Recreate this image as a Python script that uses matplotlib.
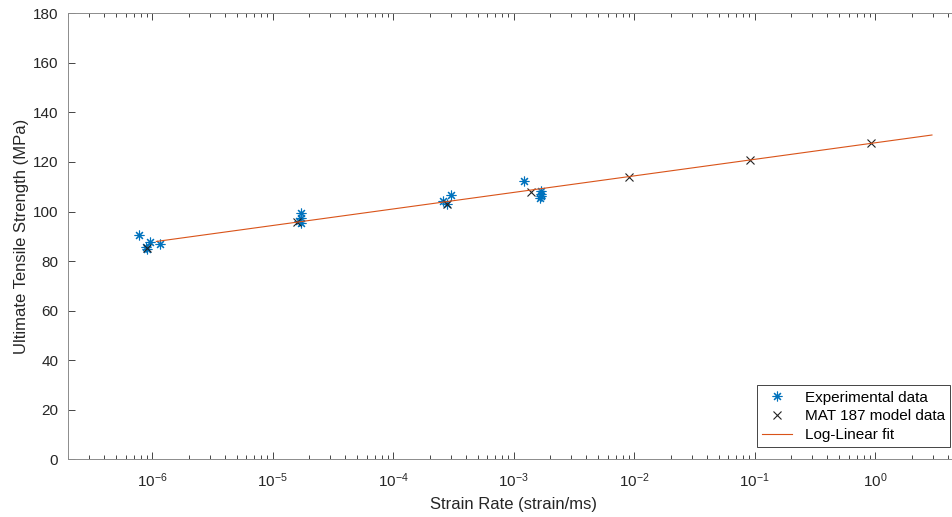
"""Ultimate tensile strength versus strain rate, log-linear fit."""
import matplotlib
matplotlib.use("Agg")
import matplotlib.pyplot as plt
from matplotlib.ticker import LogLocator, NullFormatter

plt.rcParams["font.family"] = ["Liberation Sans", "DejaVu Sans"]

# experimental test results
exp_rate = [7.7e-7, 8.9e-7, 9.1e-7, 9.6e-7, 1.15e-6,
            1.65e-5, 1.7e-5, 1.7e-5, 1.7e-5,
            2.6e-4, 2.8e-4, 3.0e-4,
            1.21e-3, 1.68e-3, 1.68e-3, 1.66e-3, 1.68e-3]
exp_uts = [90.4, 85.5, 84.9, 87.7, 86.8,
           96.0, 99.2, 97.2, 95.3,
           104.1, 102.9, 106.8,
           112.2, 108.4, 107.0, 105.6, 106.3]

# MAT 187 model results
model_rate = [9.0e-7, 1.6e-5, 2.8e-4, 1.4e-3, 9.1e-3, 0.092, 0.92]
model_uts = [85.1, 95.8, 103.2, 107.9, 113.9, 120.7, 127.5]

# log-linear fit (straight in semilog axes), end points
fit_rate = [1.08e-6, 2.95]
fit_uts = [87.9, 130.9]

x_ticks = [1e-6, 1e-5, 1e-4, 1e-3, 1e-2, 1e-1, 1e0]
y_ticks = list(range(0, 181, 20))

fig = plt.figure(figsize=(9.53, 5.17), dpi=100)
ax = fig.add_axes([0.0714, 0.112, 0.9355, 0.862])

ax.semilogx(exp_rate, exp_uts, linestyle="none", marker=(8, 2, 0),
            markersize=7, markeredgewidth=0.8, color="#0072BD",
            label="Experimental data")
ax.semilogx(model_rate, model_uts, linestyle="none", marker="x",
            markersize=6, markeredgewidth=0.8, color="#222222",
            label="MAT 187 model data")
ax.semilogx(fit_rate, fit_uts, "-", color="#D95319", linewidth=0.8,
            label="Log-Linear fit")

ax.set_xlim(2e-7, 5)
ax.set_ylim(0, 180)
ax.set_xticks(x_ticks)
ax.set_yticks(y_ticks)
ax.xaxis.set_minor_locator(LogLocator(base=10, subs=range(2, 10), numticks=20))
ax.xaxis.set_minor_formatter(NullFormatter())

ax.tick_params(which="both", direction="in", top=True, right=True,
               colors="#262626", labelsize=11)
ax.tick_params(which="major", length=5, width=0.6)
ax.tick_params(which="minor", length=3, width=0.6)
ax.tick_params(axis="x", which="major", pad=9)
ax.tick_params(axis="y", which="major", pad=7)
for spine in ax.spines.values():
    spine.set_color("#8c8c8c")
    spine.set_linewidth(0.7)

ax.set_xlabel("Strain Rate (strain/ms)", fontsize=12, color="#262626",
              labelpad=5)
ax.set_ylabel("Ultimate Tensile Strength (MPa)", fontsize=12,
              color="#262626", labelpad=3)

leg = ax.legend(loc="lower right", bbox_to_anchor=(0.997, 0.135),
                bbox_transform=fig.transFigure, borderaxespad=0,
                fontsize=11, fancybox=False, framealpha=1, borderpad=0.35,
                handlelength=2.0, labelspacing=0.3)
leg.get_frame().set_edgecolor("#262626")
leg.get_frame().set_linewidth(0.6)

fig.savefig("out.png", dpi=100)
